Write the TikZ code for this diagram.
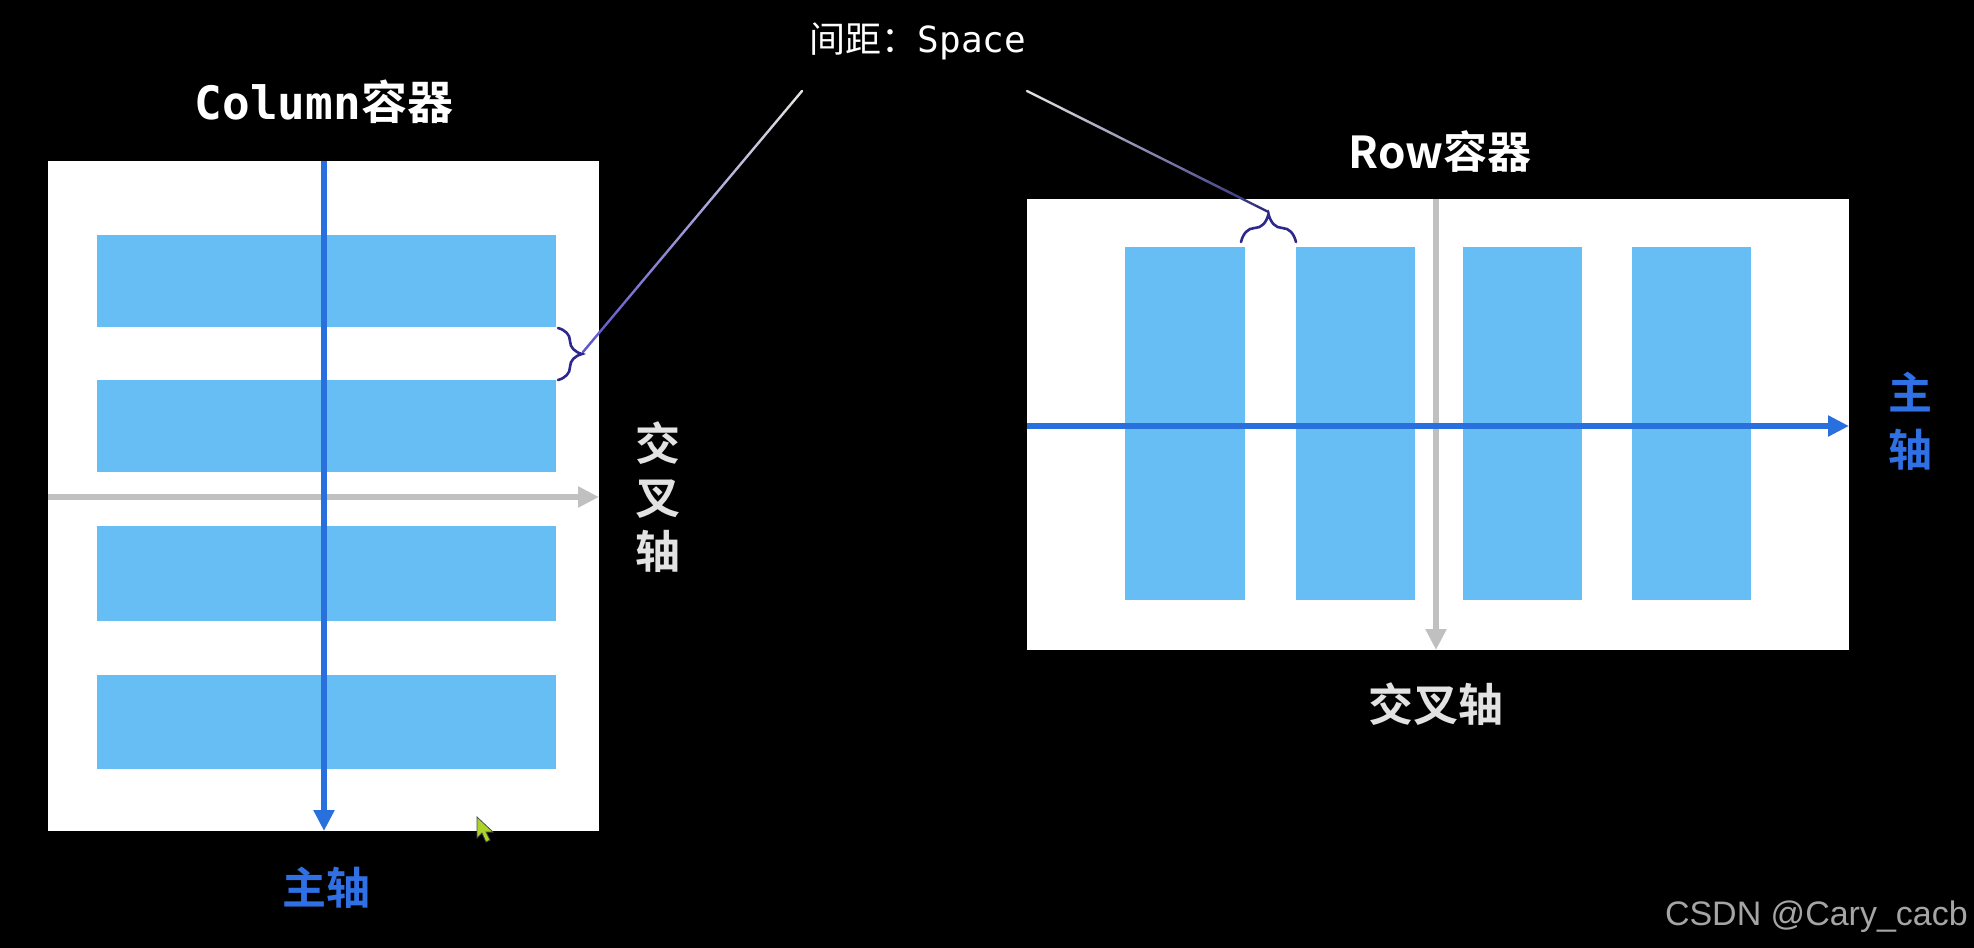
\documentclass[tikz,border=0pt]{standalone}
\usepackage{fontspec}
\usetikzlibrary{arrows.meta,calc,decorations.pathreplacing}
\newfontfamily\cjk{Noto Sans CJK SC}
\newfontfamily\cjkB{Noto Sans CJK SC Bold}
\newfontfamily\mono{DejaVu Sans Mono}
\newfontfamily\wm{Liberation Sans}
\definecolor{barblue}{RGB}{102,190,245}
\definecolor{axisblue}{RGB}{40,112,222}
\definecolor{textblue}{RGB}{47,112,228}
\definecolor{axisgray}{RGB}{192,192,192}
\definecolor{textgray}{RGB}{226,226,226}
\definecolor{bracecol}{RGB}{45,40,140}
\definecolor{ltop}{RGB}{225,225,225}
\definecolor{lbotA}{RGB}{95,85,205}
\definecolor{lbotB}{RGB}{45,45,125}
\definecolor{cursor}{RGB}{172,212,40}
\definecolor{wmgray}{RGB}{165,165,165}
\begin{document}
\begin{tikzpicture}[x=1pt,y=-1pt,
  container/.style={fill=white, inner sep=0pt, outer sep=0pt},
  bar/.style={fill=barblue, inner sep=0pt, outer sep=0pt},
  mainax/.style={draw=axisblue, line width=6pt, -{Triangle[length=21pt,width=20pt]}},
  crossax/.style={draw=axisgray, line width=6pt, -{Triangle[length=21pt,width=20pt]}},
  spacebrace/.style={draw=bracecol, line width=2.6pt, line cap=round, decorate},
  bluelabel/.style={text=textblue, anchor=base, inner sep=0pt, font=\cjkB\fontsize{44}{44}\selectfont},
  graylabel/.style={text=textgray, anchor=base, inner sep=0pt, font=\cjkB\fontsize{45}{45}\selectfont},
  title/.style={text=white, anchor=base, inner sep=0pt}
]
\fill[black] (0,0) rectangle (1974,948);
\useasboundingbox (0,0) rectangle (1974,948);

% ---------- Column container ----------
\node[container, minimum width=551pt, minimum height=670pt] (colbox) at (323.5,496) {};
\node[bar, minimum width=459pt, minimum height=92pt] (cb1) at (326.5,280.5) {};
\node[bar, minimum width=459pt, minimum height=92pt] (cb2) at (326.5,426) {};
\node[bar, minimum width=459pt, minimum height=95pt] (cb3) at (326.5,573.5) {};
\node[bar, minimum width=459pt, minimum height=94pt] (cb4) at (326.5,722) {};
\coordinate (cxs) at (48,497);
\coordinate (cxe) at (599,497);
\coordinate (cms) at (324,161);
\coordinate (cme) at (324,831);
\draw[crossax] (cxs) -- (cxe);
\draw[mainax] (cms) -- (cme);

\node[title] (coltitle) at (324,119)
  {{\mono\bfseries\fontsize{46}{46}\selectfont Column}{\cjkB\fontsize{46}{46}\selectfont 容器}};
\node[bluelabel] (colmain) at (326,904) {主轴};
\node[graylabel] (colc1) at (658,460) {交};
\node[graylabel] (colc2) at (658,514) {叉};
\node[graylabel] (colc3) at (658,568) {轴};

% ---------- Row container ----------
\node[container, minimum width=822pt, minimum height=451pt] (rowbox) at (1438,424.5) {};
\node[bar, minimum width=120pt, minimum height=353pt] (rb1) at (1185,423.5) {};
\node[bar, minimum width=119pt, minimum height=353pt] (rb2) at (1355,423.5) {};
\node[bar, minimum width=119pt, minimum height=353pt] (rb3) at (1522,423.5) {};
\node[bar, minimum width=119pt, minimum height=353pt] (rb4) at (1691,423.5) {};
\coordinate (rcs) at (1436,199);
\coordinate (rce) at (1436,650);
\coordinate (rms) at (1027,426);
\coordinate (rme) at (1849,426);
\draw[crossax] (rcs) -- (rce);
\draw[mainax] (rms) -- (rme);

\node[title, font=\cjkB\fontsize{44}{44}\selectfont] (rowtitle) at (1440,168) {Row容器};
\node[graylabel] (rowcross) at (1436,721) {交叉轴};
\node[bluelabel] (rowm1) at (1910,409) {主};
\node[bluelabel] (rowm2) at (1910,466) {轴};

% ---------- Spacing annotation ----------
\node[title] (space) at (918,52)
  {{\cjk\fontsize{36}{36}\selectfont 间距：}{\mono\fontsize{36}{36}\selectfont Space}};

\coordinate (lb1) at (558,328);
\coordinate (lb2) at (558,380);
\coordinate (ltip) at (583,352);
\coordinate (tb1) at (1241,242);
\coordinate (tb2) at (1296,242);
\coordinate (ttip) at (1268.5,212);
\draw[spacebrace, decoration={brace, amplitude=24pt, aspect=0.5}] (lb1) -- (lb2);
\draw[spacebrace, decoration={brace, amplitude=28pt, aspect=0.5}] (tb1) -- (tb2);

\coordinate (la) at (802,91);
\coordinate (ra) at (1027,91);
\foreach \i in {0,...,19}{
  \pgfmathsetmacro\ta{\i/20}
  \pgfmathsetmacro\tb{(\i+1)/20}
  \pgfmathtruncatemacro\p{\i*100/19}
  \draw[draw=lbotA!\p!ltop, line width=2.4pt, line cap=round]
    ($(la)!\ta!(ltip)$) -- ($(la)!\tb!(ltip)$);
  \draw[draw=lbotB!\p!ltop, line width=2.4pt, line cap=round]
    ($(ra)!\ta!(ttip)$) -- ($(ra)!\tb!(ttip)$);
}

% ---------- mouse cursor ----------
\fill[cursor, draw=black!70, line width=0.8pt]
  (477,817) -- (477,838) -- (482,833) -- (486,842) -- (490,840) -- (486,832) -- (493,832) -- cycle;

% ---------- watermark ----------
\node[text=wmgray, anchor=base east, inner sep=0pt, font=\wm\fontsize{34}{34}\selectfont] (wmark) at (1968,925) {CSDN @Cary\_cacb};
\end{tikzpicture}
\end{document}
